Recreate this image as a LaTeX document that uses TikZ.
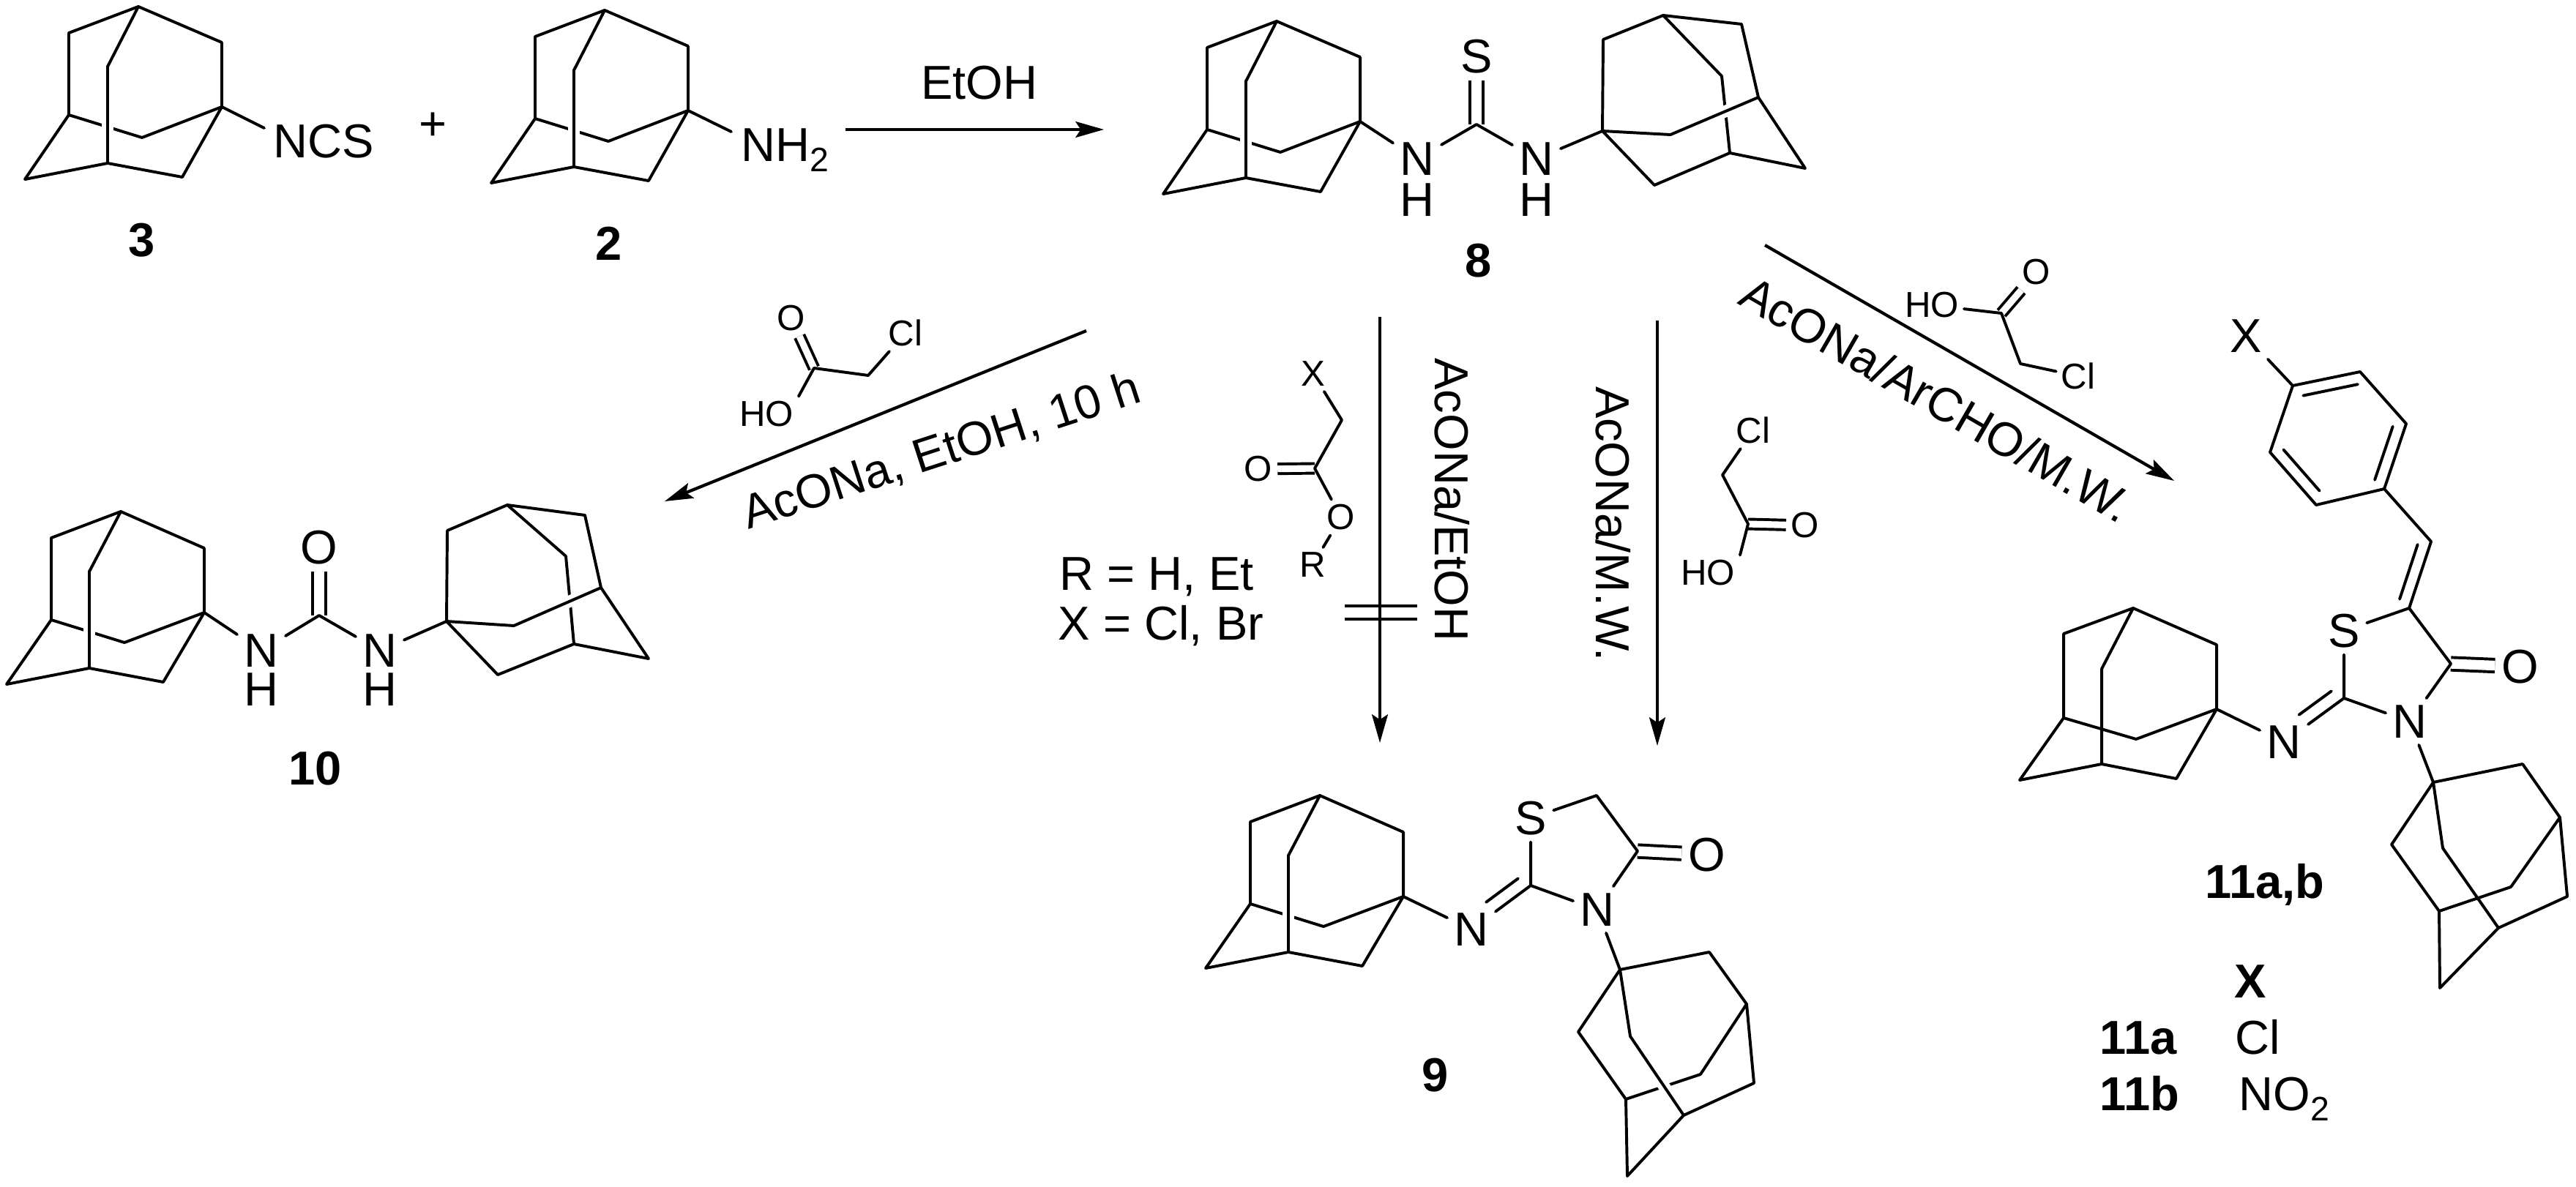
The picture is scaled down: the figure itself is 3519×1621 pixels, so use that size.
\documentclass[tikz,border=0pt]{standalone}
\usepackage{fontspec}
\setmainfont{Liberation Sans}
\usetikzlibrary{arrows.meta,calc}
\newcommand{\bigfont}{\fontsize{18.5}{20}\selectfont}
\newcommand{\smallfont}{\fontsize{14}{15}\selectfont}
\newcommand{\subtwo}{\raisebox{-0.22em}{\fontsize{13.2}{14}\selectfont 2}}
\tikzset{
	bond/.style={line width=1.12pt,line cap=round,line join=round},
	dbl/.style={line width=1.12pt,double,double distance=3.8pt},
	dblsmall/.style={line width=1.12pt,double,double distance=2.6pt},
	rxn/.style={line width=1.2pt,-{Stealth[length=11pt,width=6.2pt,inset=2pt]}},
	atom/.style={font=\bigfont,inner sep=2.5pt},
	reagent/.style={font=\smallfont,inner sep=1.8pt},
	cpd/.style={font=\bigfont\bfseries,inner sep=0pt},
	lbl/.style={font=\bigfont,inner sep=0pt}
}
% corner points of one cage
\newcommand{\placecage}[2]{\foreach \n/\x/\y in #2 {\coordinate (#1\n) at (\x,\y);}}
% the ten bonds which never cross anything
\newcommand{\adamcage}[1]{\draw[bond] (#1tr)--(#1t)--(#1tl)--(#1bl)--(#1fl)--(#1ib)--(#1rb)--(#1q)--(#1mb) (#1q)--(#1tr) (#1t)--(#1ml);}
% first bond passes under the second
\newcommand{\gapbond}[4]{\draw[bond] (#1)--(#2); \draw[white,line width=4.6pt] (#3)--(#4); \draw[bond] (#3)--(#4);}
% inner line of a double bond
\newcommand{\innerbond}[5]{\draw[bond] ($(#1)!#3!(#2)!#5!90:(#2)$) -- ($(#1)!#4!(#2)!#5!90:(#2)$);}
\def\uprightA{t/189/9,tl/94/45,tr/303/58,ml/147/91,bl/94/157,q/303/146,mb/194/188,ib/147/223,fl/34/245,rb/249/242}
\def\uprightB{t/165/699,tl/70/735,tr/279/749,ml/122/781,bl/70/847,q/279/837,mb/170/878,ib/122/913,fl/9/935,rb/223/932}
\begin{document}
\begin{tikzpicture}[x=0.01cm,y=-0.01cm]
	\useasboundingbox (0,0) rectangle (3519,1621);
	% isothiocyanate 3
	\placecage{ncs}{\uprightA}
	\gapbond{ncsbl}{ncsmb}{ncsml}{ncsib}
	\adamcage{ncs}
	\node[atom,anchor=base west,inner sep=0pt] (ncslabel) at (373,215) {NCS};
	\coordinate (ncsend) at (361,175);
	\draw[bond] (ncsq) -- (ncsend);
	\node[cpd] (three) at (194,328) {3};
	\node[lbl] (plus) at (591,173) {+};
	% amine 2
	\begin{scope}[shift={(637,5)}]
		\placecage{amn}{\uprightA}
	\end{scope}
	\gapbond{amnbl}{amnmb}{amnml}{amnib}
	\adamcage{amn}
	\node[atom,anchor=base west,inner sep=0pt] (nhtwo) at (1012,220) {NH\subtwo};
	\coordinate (amnend) at (999,180);
	\draw[bond] (amnq) -- (amnend);
	\node[cpd] (two) at (832,333) {2};
	% first arrow
	\coordinate (etohstart) at (1155,177);
	\coordinate (etohend) at (1508,177);
	\draw[rxn] (etohstart) -- (etohend);
	\node[lbl] (etoh) at (1338,113) {EtOH};
	% thiourea 8
	\begin{scope}[shift={(1555,20)}]
		\placecage{tuL}{\uprightA}
	\end{scope}
	\placecage{tuR}{{q/2189/179,tr/2190/54,t/2272/21,tl/2379/33,bl/2402/133,mb/2282/184,ml/2352/104,ib/2363/209,rb/2260/253,fl/2466/230}}
	\gapbond{tuLbl}{tuLmb}{tuLml}{tuLib}
	\gapbond{tuRml}{tuRib}{tuRmb}{tuRbl}
	\adamcage{tuL}
	\adamcage{tuR}
	\node[atom] (tuNa) at (1936,217) {N};
	\node[atom] (tuHa) at (1936,273) {H};
	\node[atom] (tuNb) at (2099,217) {N};
	\node[atom] (tuHb) at (2099,273) {H};
	\node[atom] (tuS) at (2017,77) {S};
	\coordinate (tuC) at (2017,170);
	\draw[dbl] (tuC) -- (tuS);
	\draw[bond] (tuLq) -- (tuNa) (tuNa) -- (tuC) -- (tuNb) (tuNb) -- (tuRq);
	\node[cpd] (eight) at (2020,356) {8};
	% urea 10
	\placecage{urL}{\uprightB}
	\placecage{urR}{{q/610/849,tr/611/725,t/693/690,tl/799/704,bl/821/803,mb/702/855,ml/773/760,ib/784/880,rb/680/922,fl/886/900}}
	\gapbond{urLbl}{urLmb}{urLml}{urLib}
	\gapbond{urRml}{urRib}{urRmb}{urRbl}
	\adamcage{urL}
	\adamcage{urR}
	\node[atom] (urNa) at (357,889) {N};
	\node[atom] (urHa) at (357,942) {H};
	\node[atom] (urNb) at (519,889) {N};
	\node[atom] (urHb) at (519,942) {H};
	\node[atom] (urO) at (436,748) {O};
	\coordinate (urC) at (436,841);
	\draw[dbl] (urC) -- (urO);
	\draw[bond] (urLq) -- (urNa) (urNa) -- (urC) -- (urNb) (urNb) -- (urRq);
	\node[cpd] (ten) at (431,1050) {10};
	% arrow to 10 with its reagent
	\coordinate (ureastart) at (1484,452);
	\coordinate (ureaend) at (908,685);
	\draw[rxn] (ureastart) -- (ureaend);
	\node[lbl,rotate=18,anchor=base] (ureacond) at (1292,636) {AcONa, EtOH, 10 h};
	\node[reagent] (acaO) at (1081,435) {O};
	\node[reagent] (acaOH) at (1047,566) {HO};
	\node[reagent] (acaCl) at (1237,455) {Cl};
	\coordinate (acaC) at (1112,503);
	\coordinate (acaCH) at (1186,513);
	\draw[dblsmall] (acaC) -- (acaO);
	\draw[bond] (acaOH.north east) -- (acaC) -- (acaCH) -- (acaCl);
	% ester, blocked arrow
	\node[reagent] (estX) at (1794,511) {X};
	\node[reagent] (estO) at (1719,641) {O};
	\node[reagent] (estOb) at (1832,707) {O};
	\node[reagent] (estR) at (1793,772) {R};
	\coordinate (estCH) at (1833,574);
	\coordinate (estC) at (1796,640);
	\draw[dblsmall] (estC) -- (estO);
	\draw[bond] (estX) -- (estCH) -- (estC) -- (estOb) (estOb) -- (estR);
	\node[lbl] (rline) at (1580,788) {R = H, Et};
	\node[lbl] (xline) at (1586,855) {X = Cl, Br};
	\coordinate (blockstart) at (1885,433);
	\coordinate (blockend) at (1885,1015);
	\draw[rxn] (blockstart) -- (blockend);
	\coordinate (crossa) at (1837,828);
	\coordinate (crossb) at (1936,828);
	\coordinate (crossc) at (1837,846);
	\coordinate (crossd) at (1936,846);
	\draw[line width=1.2pt] (crossa) -- (crossb) (crossc) -- (crossd);
	\node[lbl,rotate=-90] (blockcond) at (1984,683) {AcONa/EtOH};
	% arrow to 9
	\coordinate (mwstart) at (2264,438);
	\coordinate (mwend) at (2264,1019);
	\draw[rxn] (mwstart) -- (mwend);
	\node[lbl,rotate=-90] (mwcond) at (2204,716) {AcONa/M.W.};
	\node[reagent] (acbCl) at (2395,588) {Cl};
	\node[reagent] (acbO) at (2466,718) {O};
	\node[reagent] (acbOH) at (2333,783) {HO};
	\coordinate (acbCH) at (2353,649);
	\coordinate (acbC) at (2388,716);
	\draw[dblsmall] (acbC) -- (acbO);
	\draw[bond] (acbCl) -- (acbCH) -- (acbC) -- (acbOH.north east);
	% thiazolidinone 9
	\begin{scope}[shift={(1638,388)}]
		\placecage{thzL}{\uprightB}
	\end{scope}
	\placecage{thzR}{{q/2213/1325,tr/2335/1301,t/2386/1372,tl/2396/1480,bl/2300/1524,fl/2223/1607,ib/2221/1502,rb/2156/1410,mb/2227/1416,ml/2323/1468}}
	\gapbond{thzLbl}{thzLmb}{thzLml}{thzLib}
	\gapbond{thzRml}{thzRib}{thzRmb}{thzRbl}
	\adamcage{thzL}
	\adamcage{thzR}
	\node[atom] (thzNa) at (2010,1270) {N};
	\node[atom] (thzS) at (2091,1118) {S};
	\node[atom] (thzNb) at (2182,1243) {N};
	\node[atom] (thzO) at (2332,1168) {O};
	\coordinate (thzCa) at (2091,1210);
	\coordinate (thzCb) at (2181,1087);
	\coordinate (thzCc) at (2237,1163);
	\draw[dbl] (thzCc) -- (thzO);
	\draw[bond] (thzLq) -- (thzNa) (thzNa) -- (thzCa) (thzCa) -- (thzS) (thzS) -- (thzCb) -- (thzCc) -- (thzNb) (thzNb) -- (thzCa) (thzNb) -- (thzRq);
	\innerbond{thzCa}{thzNa}{.08}{.62}{-5.1pt}
	\node[cpd] (nine) at (1961,1469) {9};
	% arrow to 11 with its reagent
	\coordinate (arylstart) at (2411,335);
	\coordinate (arylend) at (2970,657);
	\draw[rxn] (arylstart) -- (arylend);
	\node[lbl,rotate=-30] (arylcond) at (2645,545) {AcONa/ArCHO/M.W.};
	\node[reagent] (accO) at (2782,372) {O};
	\node[reagent] (accOH) at (2639,417) {HO};
	\node[reagent] (accCl) at (2839,514) {Cl};
	\coordinate (accC) at (2734,428);
	\coordinate (accCH) at (2760,497);
	\draw[dblsmall] (accC) -- (accO);
	\draw[bond] (accOH) -- (accC) -- (accCH) -- (accCl);
	% benzylidene 11
	\placecage{benL}{{t/2914/831,tl/2819/866,tr/3028/881,ml/2871/914,bl/2819/981,q/3028/969,mb/2918/1010,ib/2871/1044,fl/2759/1066,rb/2973/1064}}
	\placecage{benR}{{q/3324/1069,tr/3446/1044,t/3497/1117,tl/3507/1225,bl/3413/1268,fl/3333/1350,ib/3332/1245,rb/3267/1154,mb/3337/1159,ml/3430/1212}}
	\adamcage{benL}
	\adamcage{benR}
	\draw[bond] (benLbl) -- (benLmb) (benLml) -- (benLib) (benRml) -- (benRib) (benRmb) -- (benRbl);
	\node[atom] (benX) at (3068,459) {X};
	\node[atom] (benNa) at (3120,1014) {N};
	\node[atom] (benS) at (3202,862) {S};
	\node[atom] (benNb) at (3292,986) {N};
	\node[atom] (benO) at (3443,911) {O};
	\coordinate (ringa) at (3132,527);
	\coordinate (ringb) at (3224,508);
	\coordinate (ringc) at (3287,579);
	\coordinate (ringd) at (3257,668);
	\coordinate (ringe) at (3164,690);
	\coordinate (ringf) at (3101,618);
	\coordinate (vinyl) at (3321,740);
	\coordinate (benCa) at (3202,954);
	\coordinate (benCb) at (3291,831);
	\coordinate (benCc) at (3348,907);
	\draw[dbl] (benCc) -- (benO);
	\draw[bond] (benX) -- (ringa) (ringa) -- (ringb) -- (ringc) -- (ringd) -- (ringe) -- (ringf) -- cycle;
	\draw[bond] (ringd) -- (vinyl) -- (benCb) -- (benS) (benS) -- (benCa) (benCb) -- (benCc) -- (benNb) (benNb) -- (benCa) -- (benNa) (benNa) -- (benLq) (benNb) -- (benRq);
	\innerbond{ringa}{ringb}{.12}{.93}{-4.6pt}
	\innerbond{ringc}{ringd}{.1}{.92}{-4.6pt}
	\innerbond{ringe}{ringf}{.12}{.9}{-4.6pt}
	\innerbond{vinyl}{benCb}{.1}{.92}{-4.6pt}
	\innerbond{benCa}{benNa}{.08}{.62}{-5.1pt}
	% table of X
	\node[cpd,anchor=base] (cpdname) at (3094,1227) {11a,b};
	\node[cpd,anchor=base] (xhead) at (3074,1363) {X};
	\node[cpd,anchor=base west] (cpda) at (2868,1440) {11a};
	\node[lbl,anchor=base west] (xcl) at (3053,1440) {Cl};
	\node[cpd,anchor=base west] (cpdb) at (2868,1517) {11b};
	\node[lbl,anchor=base west] (xno) at (3058,1517) {NO\subtwo};
\end{tikzpicture}
\end{document}
